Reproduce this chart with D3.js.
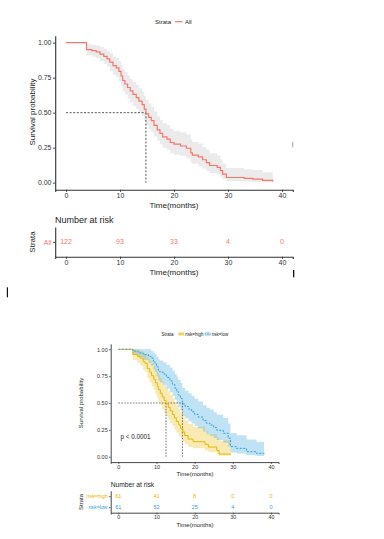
<!DOCTYPE html>
<html>
<head>
<meta charset="utf-8">
<script src="https://cdn.jsdelivr.net/npm/d3@7"></script>
<style>
  html, body { margin: 0; padding: 0; background: #fff; }
  svg { display: block; font-family: "Liberation Sans", Arial, sans-serif; }
</style>
</head>
<body>
<div id="chart"></div>
<script>
// ---- data ----
const timeTicks = [0, 10, 20, 30, 40];
const survTicks = [0, 0.25, 0.5, 0.75, 1];
const survTickLabels = ['0.00', '0.25', '0.50', '0.75', '1.00'];

// top panel: all patients
const timeAll = [0, 3.8, 4.8, 5.6, 6.3, 7.0, 7.6, 8.1, 8.7, 9.3, 9.8, 10.2, 10.5, 10.9, 11.4, 11.9, 12.4, 13.0, 13.5, 14.1, 14.5, 14.8, 15.3, 15.8, 16.3, 16.9, 17.4, 17.9, 18.7, 19.3, 20.0, 21.2, 22.3, 23.1, 23.4, 24.5, 25.3, 26.0, 26.6, 28.0, 28.6, 29.0, 29.7, 33.0, 34.6, 36.4, 38.3];
const survAll = [1, 0.951, 0.943, 0.934, 0.918, 0.902, 0.885, 0.861, 0.836, 0.820, 0.795, 0.762, 0.730, 0.705, 0.680, 0.656, 0.631, 0.607, 0.582, 0.557, 0.525, 0.492, 0.467, 0.443, 0.410, 0.377, 0.352, 0.328, 0.311, 0.287, 0.275, 0.262, 0.246, 0.213, 0.197, 0.184, 0.164, 0.143, 0.123, 0.110, 0.086, 0.061, 0.037, 0.031, 0.025, 0.016, 0.008];
const lowerAll = [1, 0.91, 0.90, 0.89, 0.87, 0.85, 0.83, 0.80, 0.77, 0.755, 0.725, 0.69, 0.655, 0.63, 0.60, 0.575, 0.55, 0.525, 0.50, 0.475, 0.44, 0.41, 0.385, 0.36, 0.33, 0.30, 0.275, 0.25, 0.235, 0.21, 0.20, 0.19, 0.175, 0.145, 0.135, 0.12, 0.10, 0.085, 0.07, 0.06, 0.04, 0.025, 0.012, 0.009, 0.006, 0.003, 0.001];
const upperAll = [1, 0.99, 0.985, 0.98, 0.97, 0.955, 0.94, 0.925, 0.90, 0.89, 0.87, 0.84, 0.81, 0.79, 0.765, 0.74, 0.72, 0.70, 0.675, 0.65, 0.62, 0.59, 0.565, 0.54, 0.51, 0.475, 0.45, 0.425, 0.41, 0.385, 0.37, 0.36, 0.345, 0.31, 0.29, 0.28, 0.255, 0.235, 0.21, 0.195, 0.165, 0.135, 0.105, 0.095, 0.09, 0.075, 0.065];
const medianAll = 14.8;
const riskAll = [122, 93, 33, 4, 0];

// bottom panel: risk=high
const timeHigh = [0, 3.8, 5.0, 5.7, 6.5, 7.0, 7.6, 8.2, 8.7, 9.3, 9.7, 10.2, 10.5, 11.0, 11.5, 12.0, 12.5, 13.1, 13.6, 14.2, 14.7, 15.2, 15.8, 16.3, 16.9, 17.4, 18.3, 19.6, 22.7, 23.6, 25.8, 26.4, 29.4];
const survHigh = [1, 0.951, 0.934, 0.918, 0.885, 0.869, 0.820, 0.787, 0.754, 0.721, 0.689, 0.656, 0.623, 0.590, 0.557, 0.525, 0.492, 0.459, 0.426, 0.393, 0.361, 0.328, 0.295, 0.262, 0.230, 0.197, 0.164, 0.140, 0.115, 0.090, 0.058, 0.025, 0.016];
const lowerHigh = [1, 0.90, 0.875, 0.85, 0.81, 0.79, 0.73, 0.69, 0.655, 0.62, 0.58, 0.545, 0.51, 0.48, 0.445, 0.41, 0.38, 0.345, 0.315, 0.285, 0.255, 0.225, 0.195, 0.17, 0.14, 0.115, 0.09, 0.078, 0.06, 0.045, 0.025, 0.008, 0.004];
const upperHigh = [1, 1, 0.995, 0.985, 0.965, 0.955, 0.92, 0.895, 0.87, 0.845, 0.815, 0.79, 0.76, 0.73, 0.70, 0.67, 0.64, 0.61, 0.575, 0.545, 0.51, 0.48, 0.445, 0.41, 0.375, 0.34, 0.305, 0.28, 0.24, 0.21, 0.18, 0.15, 0.14];
const medianHigh = 12.5;
const riskHigh = [61, 41, 8, 0, 0];

// bottom panel: risk=low
const timeLow = [0, 3.8, 5.2, 6.5, 7.9, 8.6, 9.2, 9.6, 10.0, 10.5, 10.9, 11.8, 12.6, 13.5, 14.2, 14.8, 15.3, 15.7, 16.3, 16.8, 17.5, 18.4, 19.2, 20.0, 20.9, 22.2, 23.1, 24.0, 25.0, 25.8, 27.5, 28.8, 29.4, 31.0, 33.6, 36.2, 38.2];
const survLow = [1, 0.984, 0.967, 0.951, 0.934, 0.918, 0.885, 0.869, 0.836, 0.803, 0.787, 0.770, 0.738, 0.705, 0.672, 0.639, 0.607, 0.574, 0.541, 0.492, 0.467, 0.443, 0.418, 0.394, 0.369, 0.336, 0.312, 0.295, 0.271, 0.246, 0.218, 0.172, 0.094, 0.078, 0.047, 0.031, 0.016];
const lowerLow = [1, 0.95, 0.925, 0.90, 0.875, 0.85, 0.81, 0.79, 0.75, 0.71, 0.69, 0.67, 0.635, 0.60, 0.565, 0.53, 0.495, 0.46, 0.43, 0.38, 0.355, 0.33, 0.31, 0.285, 0.265, 0.235, 0.21, 0.195, 0.175, 0.155, 0.13, 0.095, 0.04, 0.03, 0.013, 0.006, 0.002];
const upperLow = [1, 1, 1, 1, 1, 0.985, 0.965, 0.955, 0.93, 0.905, 0.895, 0.88, 0.855, 0.83, 0.80, 0.77, 0.745, 0.715, 0.685, 0.64, 0.615, 0.59, 0.565, 0.54, 0.515, 0.48, 0.455, 0.44, 0.415, 0.39, 0.36, 0.31, 0.22, 0.20, 0.16, 0.14, 0.12];
const medianLow = 16.8;
const riskLow = [61, 52, 25, 4, 0];

const FONT = '"Liberation Sans", Arial, sans-serif';
const svg = d3.select('#chart').append('svg')
  .attr('width', 384).attr('height', 539)
  .attr('viewBox', '0 0 384 539');
svg.append('rect').attr('width', 384).attr('height', 539).attr('fill', '#fff');

function rows(t, s, lo, hi) {
  return t.map((d, i) => ({ t: d, s: s[i], lo: lo[i], hi: hi[i] }));
}

// axes with ggplot-like 5% expansion built into the domain
function drawAxes(g, x, y, opt) {
  const xa = g.append('g')
    .attr('transform', `translate(0,${y.range()[0]})`)
    .call(d3.axisBottom(x).tickValues(timeTicks).tickSizeOuter(0)
      .tickSize(opt.tick).tickPadding(opt.pad));
  const ya = g.append('g')
    .attr('transform', `translate(${x.range()[0]},0)`)
    .call(opt.yAxis);
  [xa, ya].forEach(a => {
    a.select('.domain').attr('stroke', '#333').attr('stroke-width', opt.lw);
    a.selectAll('.tick line').attr('stroke', '#333').attr('stroke-width', opt.lw * 0.8);
    a.selectAll('.tick text').attr('fill', '#333').style('font-size', opt.fs + 'px')
      .style('font-family', FONT);
  });
  return { xa, ya };
}

function text(g, x, y, str, size, opt = {}) {
  const t = g.append('text')
    .attr('x', x).attr('y', y)
    .attr('dy', '0.35em')
    .attr('text-anchor', opt.anchor || 'start')
    .attr('fill', opt.fill || '#222')
    .style('font-size', size + 'px')
    .style('font-family', FONT)
    .text(str);
  if (opt.rotate) t.attr('transform', `rotate(-90,${x},${y})`).attr('text-anchor', 'middle');
  return t;
}

function drawCurve(g, x, y, data, color, ciFill, ciOpacity, dash, lw) {
  const area = d3.area().curve(d3.curveStepAfter)
    .x(d => x(d.t)).y0(d => y(d.lo)).y1(d => y(d.hi));
  const line = d3.line().curve(d3.curveStepAfter)
    .x(d => x(d.t)).y(d => y(d.s));
  g.append('path').datum(data).attr('d', area)
    .attr('fill', ciFill).attr('fill-opacity', ciOpacity).attr('stroke', 'none');
  return line;
}

function drawLine(g, x, y, data, color, dash, lw) {
  const line = d3.line().curve(d3.curveStepAfter)
    .x(d => x(d.t)).y(d => y(d.s));
  g.append('path').datum(data).attr('d', line)
    .attr('fill', 'none').attr('stroke', color).attr('stroke-width', lw)
    .attr('stroke-dasharray', dash);
}

function drawMedian(g, x, y, medians, dash, lw) {
  const m = d3.max(medians);
  g.append('line').attr('x1', x(0)).attr('x2', x(m)).attr('y1', y(0.5)).attr('y2', y(0.5))
    .attr('stroke', '#555').attr('stroke-width', lw).attr('stroke-dasharray', dash);
  medians.forEach(v => {
    g.append('line').attr('x1', x(v)).attr('x2', x(v)).attr('y1', y(0.5)).attr('y2', y(0))
      .attr('stroke', '#555').attr('stroke-width', lw).attr('stroke-dasharray', dash);
  });
}

function drawRiskTable(g, x, yr, strata, opt) {
  const ya = d3.axisLeft(yr).tickValues(strata.map(s => s.name))
    .tickSize(opt.tick).tickPadding(opt.pad).tickSizeOuter(0);
  const { ya: yAxisG } = drawAxes(g, x, yr, { tick: opt.tick, pad: opt.pad, lw: opt.lw, fs: opt.fs, yAxis: ya });
  yAxisG.selectAll('.tick text').attr('fill', (d, i) => strata[i].color);
  strata.forEach(s => {
    g.selectAll(null).data(s.risk).enter().append('text')
      .attr('x', (d, i) => x(timeTicks[i]))
      .attr('y', yr(s.name))
      .attr('dy', '0.35em')
      .attr('text-anchor', 'middle')
      .attr('fill', s.color)
      .style('font-size', opt.vfs + 'px')
      .style('font-family', FONT)
      .text(d => d);
  });
}

// ================= top panel =================
const gTop = svg.append('g');
const xTop = d3.scaleLinear([-2, 42], [55.2, 292.8]);
const yTop = d3.scaleLinear([-0.05, 1.05], [189.7, 35.7]);
const allRows = rows(timeAll, survAll, lowerAll, upperAll);

drawCurve(gTop, xTop, yTop, allRows, '#F8766D', '#a6a6a6', 0.22);
drawMedian(gTop, xTop, yTop, [medianAll], '2,1.6', 1);
drawLine(gTop, xTop, yTop, allRows, '#F8766D', null, 1.2);
drawAxes(gTop, xTop, yTop, {
  tick: 2.2, pad: 1.5, lw: 1.1, fs: 7,
  yAxis: d3.axisLeft(yTop).tickValues(survTicks).tickFormat((d, i) => survTickLabels[i])
    .tickSize(2.2).tickPadding(1.5).tickSizeOuter(0)
});
text(gTop, 32, 112, 'Survival probability', 8, { rotate: true });
text(gTop, 174, 205.5, 'Time(months)', 8, { anchor: 'middle' });

// legend
text(gTop, 155, 21.7, 'Strata', 6);
gTop.append('line').attr('x1', 175).attr('x2', 182.5).attr('y1', 21.7).attr('y2', 21.7)
  .attr('stroke', '#F8766D').attr('stroke-width', 1.2);
text(gTop, 185, 21.7, 'All', 6);

// risk table
text(gTop, 55, 220, 'Number at risk', 9);
const yRiskTop = d3.scalePoint(['All'], [256.7, 227]).padding(0.5);
const xRiskTop = d3.scaleLinear([-2, 42], [55.2, 292.8]);
drawRiskTable(gTop, xRiskTop, yRiskTop, [{ name: 'All', risk: riskAll, color: '#F8766D' }],
  { tick: 2.2, pad: 1.5, lw: 1.1, fs: 7, vfs: 7 });
text(gTop, 32, 242, 'Strata', 8, { rotate: true });
text(gTop, 174, 272.5, 'Time(months)', 8, { anchor: 'middle' });

// ================= bottom panel =================
const gBot = svg.append('g');
const xBot = d3.scaleLinear([-2, 42], [110.7, 278.6]);
const yBot = d3.scaleLinear([-0.05, 1.05], [462.1, 343.9]);
const highRows = rows(timeHigh, survHigh, lowerHigh, upperHigh);
const lowRows = rows(timeLow, survLow, lowerLow, upperLow);
const colHigh = '#E7B800', colLow = '#2E9FDF';

drawCurve(gBot, xBot, yBot, highRows, colHigh, colHigh, 0.3);
drawCurve(gBot, xBot, yBot, lowRows, colLow, colLow, 0.3);
drawMedian(gBot, xBot, yBot, [medianHigh, medianLow], '1.6,1.3', 0.8);
drawLine(gBot, xBot, yBot, highRows, colHigh, null, 1);
drawLine(gBot, xBot, yBot, lowRows, colLow, '2,1.5', 1);
drawAxes(gBot, xBot, yBot, {
  tick: 1.8, pad: 1.2, lw: 0.9, fs: 5.5,
  yAxis: d3.axisLeft(yBot).tickValues(survTicks).tickFormat((d, i) => survTickLabels[i])
    .tickSize(1.8).tickPadding(1.2).tickSizeOuter(0)
});
text(gBot, 80.7, 403, 'Survival probability', 6, { rotate: true });
text(gBot, 195, 474, 'Time(months)', 6, { anchor: 'middle' });
text(gBot, 120.5, 436.7, 'p < 0.0001', 6.3);

// legend
text(gBot, 161.5, 334, 'Strata', 4.5);
gBot.append('rect').attr('x', 178.3).attr('y', 331.8).attr('width', 5.8).attr('height', 4.4)
  .attr('fill', colHigh).attr('fill-opacity', 0.3);
gBot.append('line').attr('x1', 178.3).attr('x2', 184.1).attr('y1', 334).attr('y2', 334)
  .attr('stroke', colHigh).attr('stroke-width', 0.9);
text(gBot, 185.3, 334, 'risk=high', 4.5);
gBot.append('rect').attr('x', 204.8).attr('y', 331.8).attr('width', 5.8).attr('height', 4.4)
  .attr('fill', colLow).attr('fill-opacity', 0.3);
gBot.append('line').attr('x1', 204.8).attr('x2', 210.6).attr('y1', 334).attr('y2', 334)
  .attr('stroke', colLow).attr('stroke-width', 0.9).attr('stroke-dasharray', '1.5,1');
text(gBot, 211.8, 334, 'risk=low', 4.5);

// risk table
text(gBot, 110.7, 485, 'Number at risk', 6.7);
const yRiskBot = d3.scalePoint(['risk=low', 'risk=high'], [512.7, 490.7]).padding(0.5);
drawRiskTable(gBot, xBot, yRiskBot, [
  { name: 'risk=high', risk: riskHigh, color: colHigh },
  { name: 'risk=low', risk: riskLow, color: colLow }
], { tick: 1.8, pad: 1.2, lw: 0.9, fs: 5.3, vfs: 5.5 });
text(gBot, 80.7, 502, 'Strata', 6, { rotate: true });
text(gBot, 195, 525, 'Time(months)', 6, { anchor: 'middle' });

// stray marks present in the source image
svg.append('rect').attr('x', 292.2).attr('y', 141.7).attr('width', 1).attr('height', 5.6).attr('fill', '#8fa6bd');
svg.append('rect').attr('x', 293).attr('y', 270).attr('width', 1.3).attr('height', 7.3).attr('fill', '#111');
svg.append('rect').attr('x', 6.8).attr('y', 287.3).attr('width', 1.2).attr('height', 10).attr('fill', '#111');
</script>
</body>
</html>
